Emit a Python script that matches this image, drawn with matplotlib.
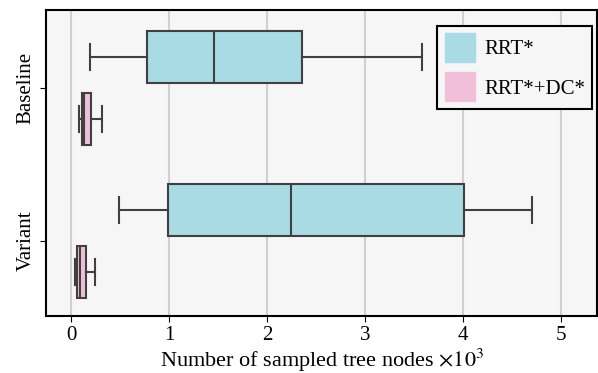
import numpy as np
import matplotlib
matplotlib.use("Agg")
import matplotlib.pyplot as plt
from matplotlib.patches import Patch

plt.rcParams['font.family'] = ['Liberation Serif', 'DejaVu Serif']
plt.rcParams['mathtext.fontset'] = 'stix'

categories = ["Baseline", "Variant"]
methods = ["RRT*", "RRT*+DC*"]
colors = ["#a8dbe3", "#f2bfdb"]

# (whislo, q1, med, q3, whishi) in thousands of nodes
stats_rrt = [(0.19, 0.77, 1.46, 2.36, 3.58),
             (0.49, 0.99, 2.24, 4.01, 4.70)]
stats_dc = [(0.085, 0.11, 0.13, 0.20, 0.32),
            (0.04, 0.06, 0.09, 0.15, 0.24)]

fig = plt.figure(figsize=(5.98, 3.73), dpi=100)
ax = fig.add_axes([0.077, 0.153, 0.922, 0.82])
ax.set_facecolor("#f6f6f6")

edge = "#404040"
offsets = [-0.2, 0.2]
for stats, off, col in zip([stats_rrt, stats_dc], offsets, colors):
    bx = []
    for s in stats:
        bx.append(dict(whislo=s[0], q1=s[1], med=s[2], q3=s[3], whishi=s[4], fliers=[]))
    pos = np.arange(len(categories)) + off
    ax.bxp(bx, positions=pos, widths=0.34, vert=False, patch_artist=True,
           showfliers=False,
           boxprops=dict(facecolor=col, edgecolor=edge, linewidth=1.5),
           medianprops=dict(color=edge, linewidth=1.5),
           whiskerprops=dict(color=edge, linewidth=1.5),
           capprops=dict(color=edge, linewidth=1.5),
           capwidths=0.17)

ax.set_yticks(range(len(categories)))
ax.set_yticklabels(categories, rotation=90, va="center", fontsize=15)
ax.set_ylim(1.49, -0.51)
ax.set_xlim(-0.255, 5.37)
ax.set_xticks([0, 1, 2, 3, 4, 5])
ax.tick_params(axis="x", labelsize=15, length=4)
ax.tick_params(axis="y", length=4)
ax.grid(True, axis="x", color="#d0d0d0", linewidth=1.5)
ax.set_axisbelow(True)
ax.set_xlabel(r"Number of sampled tree nodes $\times 10^3$", fontsize=16, labelpad=1)
for sp in ax.spines.values():
    sp.set_color("black")
    sp.set_linewidth(1.5)

handles = [Patch(facecolor=c, edgecolor=c, label=m) for c, m in zip(colors, methods)]
leg = ax.legend(handles=handles, loc="upper right", fontsize=15, fancybox=False,
                edgecolor="black", framealpha=1, facecolor="#f6f6f6",
                handlelength=1.45, handleheight=1.75, borderpad=0.35,
                handletextpad=0.45, labelspacing=0.5, borderaxespad=0,
                bbox_to_anchor=(0.991, 0.948))
leg.get_frame().set_linewidth(1.5)

fig.savefig("out.png", dpi=100)
